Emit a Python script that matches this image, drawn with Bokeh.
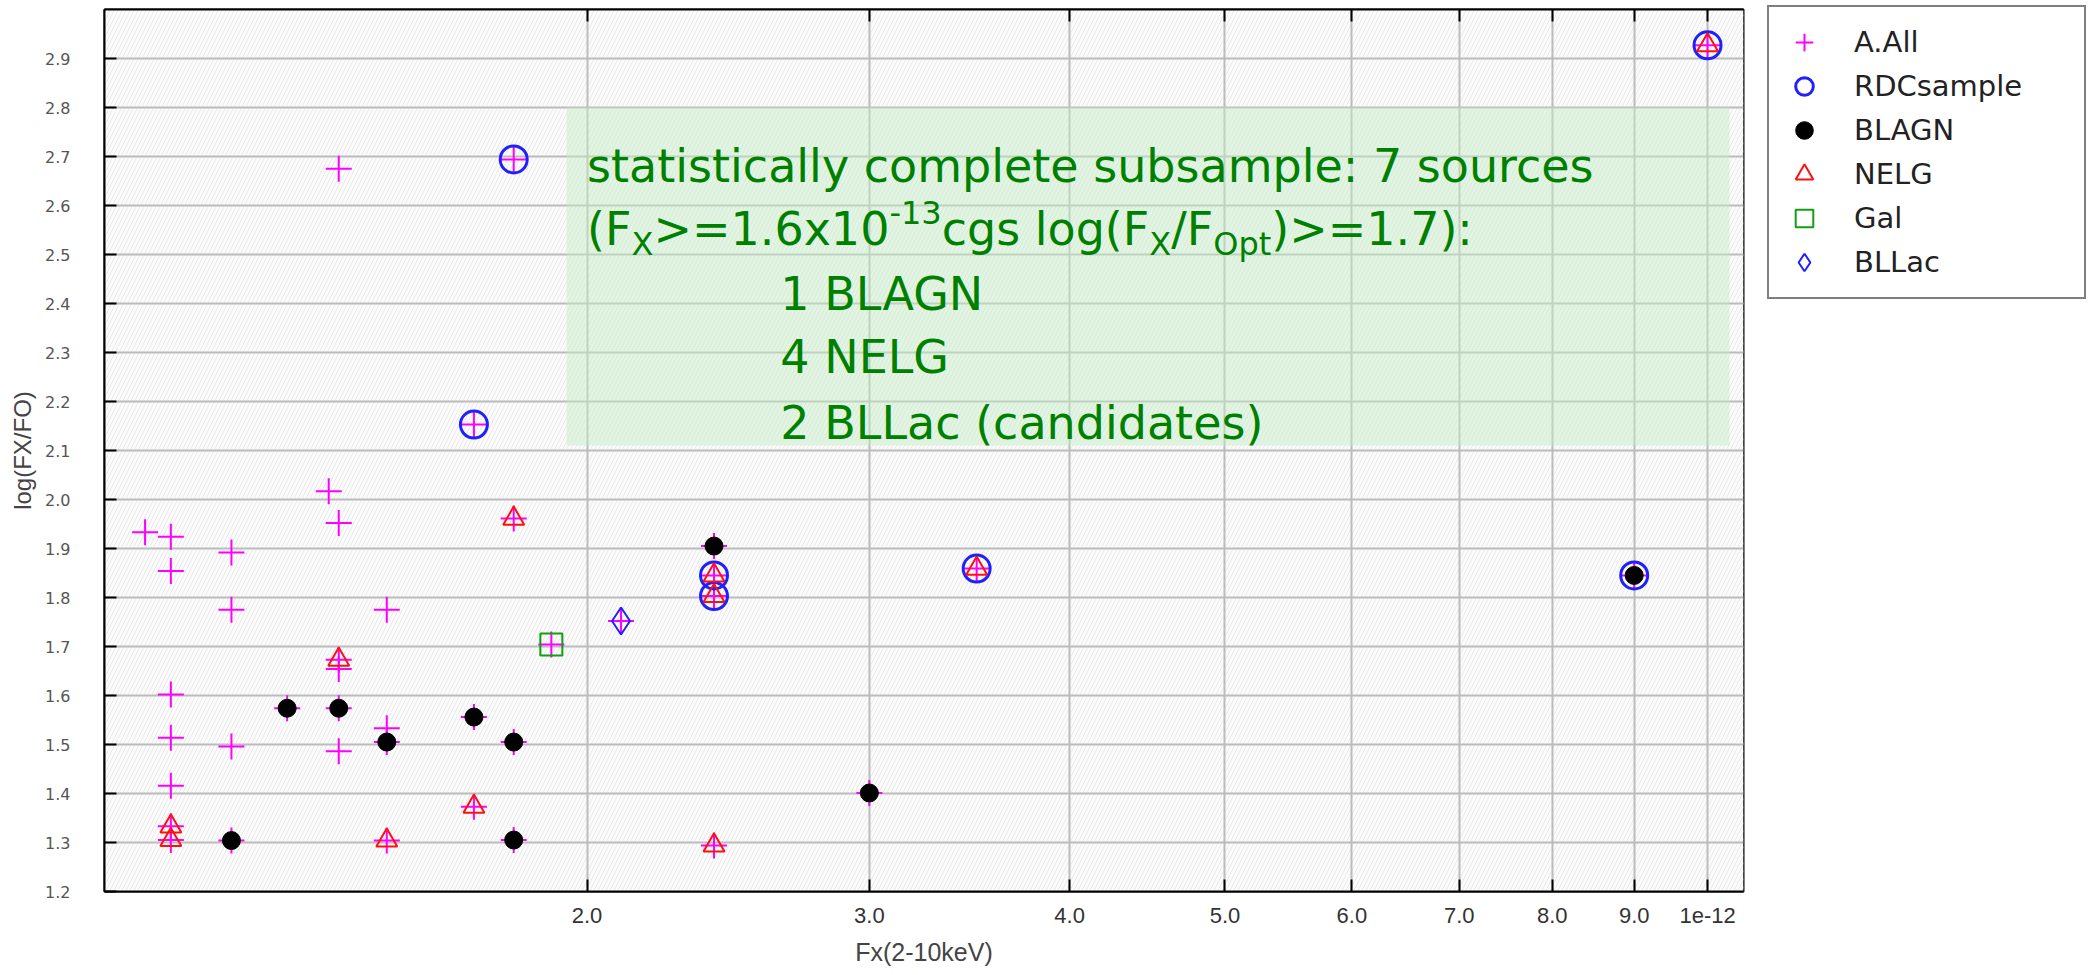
import numpy as np
from bokeh.plotting import figure
from bokeh.models import (ColumnDataSource, FixedTicker, LinearAxis, LogAxis, Legend,
                          LegendItem, BoxAnnotation, Range1d, NumeralTickFormatter)
from bokeh.core.properties import value
from bokeh.embed import file_html
from bokeh.resources import INLINE

# ---------------- data (Fx in erg/s/cm2, log(Fx/Fo)) ----------------
other_x = [1.06e-13, 1.10e-13, 1.10e-13, 1.20e-13, 1.20e-13, 1.38e-13, 1.40e-13, 1.50e-13,
           1.40e-13, 1.40e-13, 1.10e-13, 1.50e-13, 1.10e-13, 1.20e-13, 1.40e-13, 1.10e-13]
other_y = [1.933, 1.924, 1.854, 1.892, 1.775, 2.017, 1.952, 1.775,
           2.675, 1.654, 1.602, 1.533, 1.514, 1.496, 1.486, 1.416]

blagn_x = [1.30e-13, 1.40e-13, 1.70e-13, 1.50e-13, 1.80e-13, 1.20e-13, 1.80e-13,
           2.40e-13, 3.00e-13, 9.00e-13]
blagn_y = [1.574, 1.574, 1.556, 1.505, 1.505, 1.304, 1.305, 1.905, 1.401, 1.845]

nelg_x = [1.80e-13, 1.40e-13, 1.70e-13, 1.10e-13, 1.10e-13, 1.50e-13, 2.40e-13,
          2.40e-13, 2.40e-13, 3.50e-13, 1.00e-12]
nelg_y = [1.961, 1.673, 1.373, 1.333, 1.305, 1.304, 1.845, 1.803, 1.294, 1.859, 2.927]

gal_x = [1.90e-13]
gal_y = [1.704]

bllac_x = [2.10e-13]
bllac_y = [1.752]

rdc_x = [1.80e-13, 1.70e-13, 2.40e-13, 2.40e-13, 3.50e-13, 9.00e-13, 1.00e-12]
rdc_y = [2.694, 2.153, 1.845, 1.803, 1.859, 1.845, 2.927]

# A.All = every source
all_x = other_x + blagn_x + nelg_x + gal_x + bllac_x + rdc_x[:2]
all_y = other_y + blagn_y + nelg_y + gal_y + bllac_y + rdc_y[:2]

x_ticks = [2e-13, 3e-13, 4e-13, 5e-13, 6e-13, 7e-13, 8e-13, 9e-13, 1e-12]
x_tick_labels = ["2.0", "3.0", "4.0", "5.0", "6.0", "7.0", "8.0", "9.0", "1e-12"]
y_ticks = [1.2, 1.3, 1.4, 1.5, 1.6, 1.7, 1.8, 1.9, 2.0, 2.1, 2.2, 2.3, 2.4, 2.5,
           2.6, 2.7, 2.8, 2.9]

# annotation box (data coords)
box_left, box_right, box_bottom, box_top = 1.942e-13, 1.032e-12, 2.11, 2.80
text_x = 2.0e-13
text_x_indent = 2.64e-13
line_y = [2.681, 2.553, 2.420, 2.290, 2.157]

# ---------------- figure ----------------
p = figure(frame_width=1639, frame_height=882, x_axis_type="log",
           x_range=Range1d(1e-13, 1.053e-12), y_range=Range1d(1.2, 3.0),
           output_backend="svg", toolbar_location=None,
           min_border_left=104, min_border_right=347, min_border_top=9, min_border_bottom=84)

p.background_fill_color = "#fcfcfc"
p.border_fill_color = "white"
p.outline_line_color = "black"
p.outline_line_width = 2

hatch = BoxAnnotation(fill_color="#fcfcfc", fill_alpha=1.0, hatch_pattern="/",
                      hatch_color="#eaeaea", hatch_scale=8, hatch_weight=1,
                      line_color=None, level="image")
p.add_layout(hatch)

# grids
p.xgrid.ticker = FixedTicker(ticks=x_ticks)
p.ygrid.ticker = FixedTicker(ticks=y_ticks)
for g in (p.xgrid, p.ygrid):
    g.grid_line_color = "#bcbcbc"
    g.grid_line_width = 2
    g.minor_grid_line_color = None

narrow = "Liberation Sans Narrow, Liberation Sans"

# axes
xa = p.xaxis[0]
xa.ticker = FixedTicker(ticks=x_ticks)
xa.major_label_overrides = {t: l for t, l in zip(x_ticks, x_tick_labels)}
xa.axis_label = "Fx(2-10keV)"
ya = p.yaxis[0]
ya.ticker = FixedTicker(ticks=y_ticks)
ya.formatter = NumeralTickFormatter(format="0.0")
ya.axis_label = "log(FX/FO)"

for ax in (xa, ya):
    ax.axis_line_color = "black"
    ax.axis_line_width = 2
    ax.major_tick_line_color = "black"
    ax.major_tick_line_width = 2
    ax.major_tick_in = 12
    ax.major_tick_out = 0
    ax.minor_tick_line_color = None
    ax.axis_label_text_font = narrow
    ax.axis_label_text_font_style = "normal"
    ax.axis_label_text_color = "#444444"

xa.major_label_text_font = narrow
xa.major_label_text_font_size = "22px"
xa.major_label_text_color = "#333333"
xa.major_label_standoff = 16
xa.axis_label_text_font_size = "25px"
xa.axis_label_standoff = 12

ya.major_label_text_font = "DejaVu Sans"
ya.major_label_text_font_size = "16px"
ya.major_label_text_color = "#555555"
ya.major_label_standoff = 34
ya.axis_label_text_font_size = "24px"
ya.axis_label_standoff = 6

# tick-only frame axis on top
top_ax = LogAxis(ticker=FixedTicker(ticks=x_ticks))
top_ax.axis_line_color = "black"
top_ax.axis_line_width = 2
top_ax.major_tick_line_color = "black"
top_ax.major_tick_line_width = 2
top_ax.major_tick_in = 12
top_ax.major_tick_out = 0
top_ax.minor_tick_line_color = None
top_ax.major_label_text_font_size = "1px"
top_ax.major_label_text_color = None
top_ax.major_label_standoff = 0
p.add_layout(top_ax, "above")

# green annotation box (below the markers and text, above the grid)
note_box = BoxAnnotation(left=box_left, right=box_right, bottom=box_bottom, top=box_top,
                         fill_color="#c4eec4", fill_alpha=0.45, line_color=None,
                         level="underlay")
p.add_layout(note_box)

# ---------------- markers ----------------
r_all = p.scatter(all_x, all_y, marker="cross", size=26, line_color="#ff00ff", line_width=2)
r_rdc = p.scatter(rdc_x, rdc_y, marker="circle", size=27, fill_color=None,
                  line_color="#2020ff", line_width=3)
r_blagn = p.scatter(blagn_x, blagn_y, marker="circle", size=18, fill_color="black",
                    line_color="black", line_width=1)
r_nelg = p.scatter(nelg_x, nelg_y, marker="triangle", size=21, fill_color=None,
                   line_color="#ff1010", line_width=2)
r_gal = p.scatter(gal_x, gal_y, marker="square", size=22, fill_color=None,
                  line_color="#10a010", line_width=2)
r_bllac = p.scatter(bllac_x, bllac_y, marker="diamond", size=27, fill_color=None,
                    line_color="#2020ff", line_width=2)

# ---------------- annotation text ----------------
big, small = 46, 32
W = {'(': 0.390, ')': 0.390, 'F': 0.575, 'X': 0.686, '>': 0.838, '=': 0.838, '1': 0.636,
     '.': 0.318, '6': 0.636, 'x': 0.592, '0': 0.636, '-': 0.361, '3': 0.636, 'c': 0.550,
     'g': 0.635, 's': 0.521, ' ': 0.318, 'l': 0.278, 'o': 0.612, '/': 0.337, 'O': 0.787,
     'p': 0.635, 't': 0.392, '7': 0.636, ':': 0.337}
pieces = [("(F", big, 0), ("X", small, 15), (">=1.6x10", big, 0), ("-13", small, -16),
          ("cgs log(F", big, 0), ("X", small, 15), ("/F", big, 0), ("Opt", small, 15),
          (")>=1.7):", big, 0)]

tx, ty, tt, txo, tyo, tsz = [], [], [], [], [], []
tx.append(text_x); ty.append(line_y[0]); tt.append("statistically complete subsample: 7 sources")
txo.append(0); tyo.append(0); tsz.append(f"{big}px")
off = 0.0
for s, sz, dy in pieces:
    tx.append(text_x); ty.append(line_y[1]); tt.append(s)
    txo.append(off); tyo.append(dy); tsz.append(f"{sz}px")
    off += sum(W.get(c, 0.6) for c in s) * sz
for i, s in enumerate(["1 BLAGN", "4 NELG", "2 BLLac (candidates)"]):
    tx.append(text_x_indent); ty.append(line_y[2 + i]); tt.append(s)
    txo.append(0); tyo.append(0); tsz.append(f"{big}px")

tsrc = ColumnDataSource(dict(x=tx, y=ty, text=tt, xo=txo, yo=tyo, sz=tsz))
p.text(x="x", y="y", text="text", x_offset="xo", y_offset="yo", text_font_size="sz",
       source=tsrc, text_font=value("DejaVu Sans"), text_color="#008000",
       text_baseline="alphabetic", text_align="left")

# ---------------- legend (side panel to the right of the frame) ----------------
legend = Legend(items=[
    LegendItem(label="A.All", renderers=[r_all]),
    LegendItem(label="RDCsample", renderers=[r_rdc]),
    LegendItem(label="BLAGN", renderers=[r_blagn]),
    LegendItem(label="NELG", renderers=[r_nelg]),
    LegendItem(label="Gal", renderers=[r_gal]),
    LegendItem(label="BLLac", renderers=[r_bllac]),
], location=(24, 592))
legend.margin = 0
legend.padding = 13
legend.spacing = 0
legend.glyph_height = 44
legend.glyph_width = 44
legend.label_height = 44
legend.label_width = 217
legend.label_standoff = 28
legend.label_text_font = "DejaVu Sans"
legend.label_text_font_size = "29px"
legend.label_text_color = "#222222"
legend.border_line_color = "black"
legend.border_line_width = 2
legend.background_fill_color = "white"
legend.background_fill_alpha = 1.0
p.add_layout(legend, "right")

open("out.html", "w").write(file_html(p, INLINE))
